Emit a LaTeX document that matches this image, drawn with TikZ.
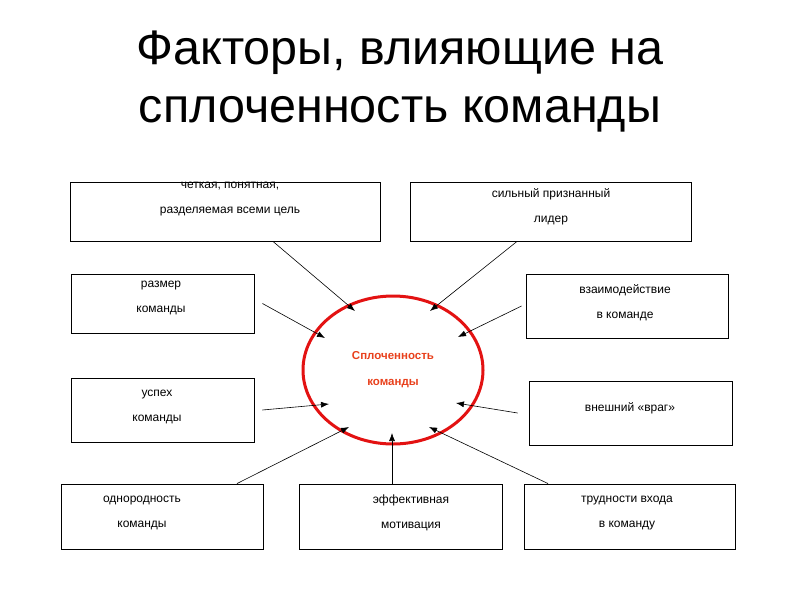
\documentclass[tikz,border=0pt]{standalone}
\usepackage{fontspec}
\setmainfont{Liberation Sans}
\usetikzlibrary{positioning,shapes.geometric,arrows.meta}
\definecolor{ringclr}{rgb}{0.89, 0.07, 0.07}
\definecolor{coreclr}{rgb}{0.91, 0.25, 0.11}
\tikzset{ %
  ,>={Latex[length=8pt,width=6pt]}
  ,every node/.style={font=\fontsize{12}{25}\selectfont}
  ,factor/.style={draw, rectangle, inner sep=0, line width=0.9pt}
  ,core/.style={draw=ringclr, ellipse, line width=3pt, inner sep=0, minimum width=180pt, minimum height=148pt, text=coreclr, align=center, font=\bfseries\fontsize{11.5}{26}\selectfont}
  ,lbl/.style={align=center, inner sep=0}
  ,headline/.style={align=center, inner sep=0, font=\fontsize{48.5}{58}\selectfont}
  ,link/.style={->, line width=0.6pt}
}
\begin{document}
\begin{tikzpicture}[x=1pt, y=-1pt]
    \useasboundingbox (0,0) rectangle (800,600);
    \node[headline] (head) at (400,82) {Факторы, влияющие на\\сплоченность команды};
    % factor boxes
    \draw
    node[factor, minimum width=310, minimum height=59] (goal) at (225,211.5) {}
    node[factor, minimum width=281, minimum height=59] (leader) at (550.5,211.5) {}
    node[factor, minimum width=183, minimum height=59] (size) at (162.5,303.5) {}
    node[factor, minimum width=183, minimum height=64] (success) at (162.5,410) {}
    node[factor, minimum width=202, minimum height=64] (interact) at (627,306) {}
    node[factor, minimum width=203, minimum height=64] (enemy) at (630.5,413) {}
    node[factor, minimum width=202, minimum height=65] (uniform) at (162,516.5) {}
    node[factor, minimum width=203, minimum height=65] (motive) at (400.5,516.5) {}
    node[factor, minimum width=211, minimum height=65] (entry) at (629.5,516.5) {};
    % box texts
    \draw
    node[lbl] (goaltxt) at (230,199) {четкая, понятная,\\разделяемая всеми цель}
    node[lbl] (leadertxt) at (551,207) {сильный признанный\\лидер}
    node[lbl] (sizetxt) at (161,297.5) {размер\\команды}
    node[lbl] (successtxt) at (157,406.5) {успех\\команды}
    node[lbl] (interacttxt) at (625,302.5) {взаимодействие\\в команде}
    node[lbl] (enemytxt) at (630,408) {внешний «враг»}
    node[lbl] (uniformtxt) at (142,513) {однородность\\команды}
    node[lbl] (motivetxt) at (411,513) {эффективная\\мотивация}
    node[lbl] (entrytxt) at (627,513) {трудности входа\\в команду};
    \node[core] (core) at (393,370) {Сплоченность\\команды};
    % arrow tips inside the ring
    \coordinate (t1) at (355,311);
    \coordinate (t2) at (430,311);
    \coordinate (t3) at (325,338);
    \coordinate (t4) at (458,337);
    \coordinate (t5) at (329,404);
    \coordinate (t6) at (456,403);
    \coordinate (t7) at (349,427);
    \coordinate (t8) at (392,433);
    \coordinate (t9) at (429,427);
    \path ([xshift=48pt]goal.south) edge[link] (t1)
      ([xshift=-33.5pt]leader.south) edge[link] (t2)
      ([xshift=8pt]size.east) edge[link] (t3)
      ([xshift=-4pt]interact.west) edge[link] (t4)
      ([xshift=8pt]success.east) edge[link] (t5)
      ([xshift=-11pt]enemy.west) edge[link] (t6)
      ([xshift=75pt]uniform.north) edge[link] (t7)
      ([xshift=-8.5pt]motive.north) edge[link] (t8)
      ([xshift=-81.5pt]entry.north) edge[link] (t9);
\end{tikzpicture}
\end{document}
